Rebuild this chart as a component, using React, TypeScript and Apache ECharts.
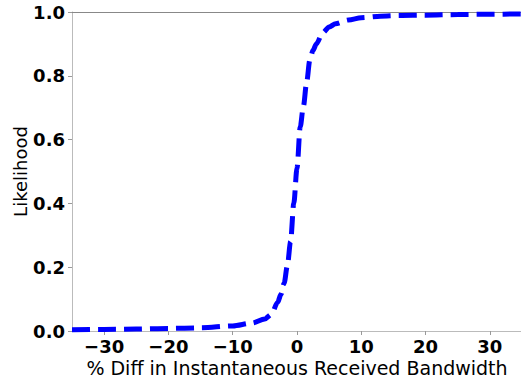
import React, { useEffect, useRef } from "react";
import * as echarts from "echarts";

const xValues = [-35, -30, -25, -20, -15, -10, -7, -5, -4, -3, -2.5, -2, -1.5, -1, -0.5, 0, 0.5, 1, 1.5, 2, 2.5, 3, 4, 5, 6, 8, 10, 13, 16, 20, 25, 30, 35];
const yValues = [0.004, 0.005, 0.006, 0.008, 0.01, 0.016, 0.025, 0.038, 0.052, 0.09, 0.115, 0.15, 0.205, 0.28, 0.4, 0.51, 0.64, 0.705, 0.78, 0.85, 0.88, 0.9, 0.935, 0.953, 0.963, 0.975, 0.982, 0.987, 0.989, 0.99, 0.992, 0.993, 0.994];
const xTicks = [-30, -20, -10, 0, 10, 20, 30];
const yTicks = [0, 0.2, 0.4, 0.6, 0.8, 1.0];

const FONT = "DejaVu Sans";

export default function App() {
  const ref = useRef<HTMLDivElement>(null);
  useEffect(() => {
    const chart = echarts.init(ref.current!, null, { renderer: "svg" });
    const data = xValues.map((x, i) => [x, yValues[i]]);
    chart.setOption({
      animation: false,
      grid: { left: 72, top: 12, right: -1, bottom: 51, containLabel: false, outerBoundsMode: "none" },
      xAxis: [
        {
          type: "value",
          min: -35,
          max: 35,
          name: "% Diff in Instantaneous Received Bandwidth",
          nameLocation: "middle",
          nameGap: 27,
          nameMoveOverlap: false,
          nameTextStyle: { fontFamily: FONT, fontSize: 19, color: "#000" },
          splitLine: { show: false },
          axisLine: { show: true, onZero: false, lineStyle: { color: "#bbbbbb", width: 1 } },
          axisTick: { show: true, length: 4, lineStyle: { color: "#999" }, customValues: xTicks },
          axisLabel: {
            customValues: xTicks,
            margin: 6,
            fontFamily: FONT,
            fontSize: 18,
            fontWeight: "bold",
            color: "#000",
            formatter: (v: number) => String(v).replace("-", "\u2212"),
          },
        },
        {
          type: "value",
          min: -35,
          max: 35,
          position: "top",
          splitLine: { show: false },
          axisLine: { show: true, onZero: false, lineStyle: { color: "#888888", width: 1 } },
          axisTick: { show: false },
          axisLabel: { show: false },
        },
      ],
      yAxis: {
        type: "value",
        min: 0,
        max: 1,
        interval: 0.2,
        name: "Likelihood",
        nameLocation: "middle",
        nameGap: 43,
        nameMoveOverlap: false,
        nameTextStyle: { fontFamily: FONT, fontSize: 18, color: "#000" },
        splitLine: { show: false },
        axisLine: { show: true, onZero: false, lineStyle: { color: "#bbbbbb", width: 1 } },
        axisTick: { show: true, length: 4, lineStyle: { color: "#999" }, customValues: yTicks },
        axisLabel: {
          margin: 7,
          fontFamily: FONT,
          fontSize: 18,
          fontWeight: "bold",
          color: "#000",
          formatter: (v: number) => v.toFixed(1),
        },
      },
      series: [
        {
          type: "line",
          data,
          showSymbol: false,
          smooth: 0.3,
          smoothMonotone: "x",
          clip: false,
          lineStyle: { color: "#0000ff", width: 5, type: [18, 8], cap: "butt" },
        },
      ],
    });
    return () => chart.dispose();
  }, []);
  return (
    <div
      ref={ref}
      style={{ position: "fixed", left: 0, top: 0, width: 521, height: 382, background: "#fff" }}
    />
  );
}
